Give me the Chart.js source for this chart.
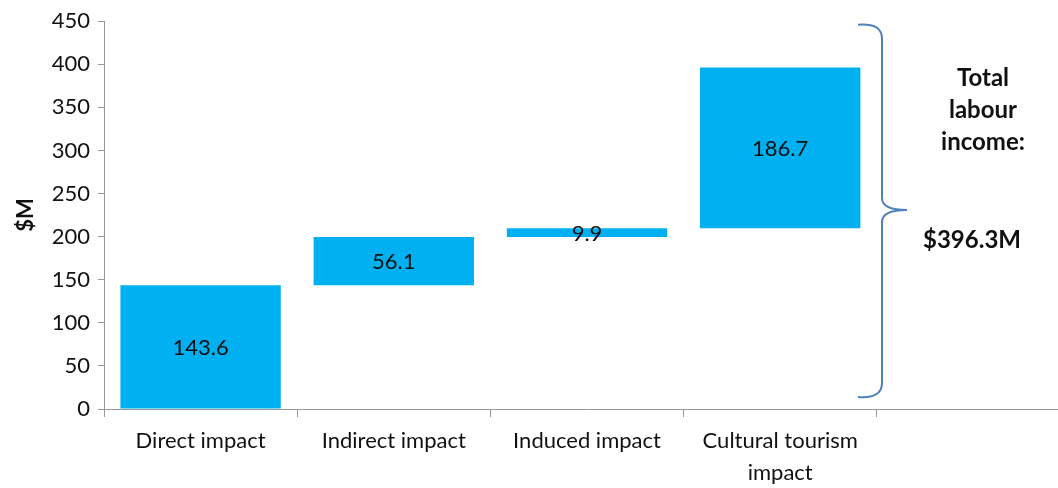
<!DOCTYPE html>
<html lang="en">
<head>
  <meta charset="UTF-8" />
  <title>Labour income impact</title>
  <script src="https://cdn.jsdelivr.net/npm/chart.js"></script>
  <style>
    html, body {
      margin: 0;
      padding: 0;
      background: #fff;
      overflow: hidden;
    }
    #wrap {
      position: relative;
      width: 1058px;
      height: 488px;
      overflow: hidden;
    }
    .note {
      position: absolute;
      font-family: Lato, "Open Sans", sans-serif;
      font-weight: bold;
      font-size: 24px;
      color: #111;
      text-align: center;
      line-height: 32px;
    }
  </style>
</head>
<body>
<div id="wrap">
  <canvas id="impactChart" width="1070" height="488"></canvas>
  <div class="note" style="left:913px; top:61px; width:140px;">Total<br>labour<br>income:</div>
  <div class="note" style="left:907px; top:223px; width:130px;">$396.3M</div>
</div>

<script>
  // each step of the waterfall starts where the previous one ends
  const categories = [["Direct impact"], ["Indirect impact"], ["Induced impact"], ["Cultural tourism", "impact"], [""]];
  const impacts = [143.6, 56.1, 9.9, 186.7];
  const yTicks = [0, 50, 100, 150, 200, 250, 300, 350, 400, 450];

  const ranges = [];
  let running = 0;
  impacts.forEach(v => {
    ranges.push([running, +(running + v).toFixed(1)]);
    running += v;
  });

  const FONT = "Lato, 'Open Sans', sans-serif";

  // value text in the middle of every floating bar
  const barLabels = {
    id: 'barLabels',
    afterDatasetsDraw(chart) {
      const ctx = chart.ctx;
      const meta = chart.getDatasetMeta(0);
      ctx.save();
      ctx.font = "22px " + FONT;
      ctx.fillStyle = "#111";
      ctx.textAlign = "center";
      ctx.textBaseline = "middle";
      meta.data.forEach((bar, i) => {
        const mid = (bar.y + bar.base) / 2;
        ctx.fillText(impacts[i].toFixed(1), bar.x, mid + 1);
      });
      ctx.restore();
    }
  };

  // curly brace grouping the whole stack on the right
  const brace = {
    id: 'brace',
    afterDraw(chart) {
      const y = chart.scales.y;
      const ctx = chart.ctx;
      const top = y.getPixelForValue(446);
      const bottom = y.getPixelForValue(14);
      const mid = y.getPixelForValue(231);
      const x0 = 858, x1 = 882, tip = 907;
      ctx.save();
      ctx.strokeStyle = "#4f81bd";
      ctx.lineWidth = 2;
      ctx.beginPath();
      ctx.moveTo(x0, top);
      ctx.quadraticCurveTo(x1, top - 2, x1, top + 14);
      ctx.lineTo(x1, mid - 12);
      ctx.quadraticCurveTo(x1, mid, tip, mid);
      ctx.moveTo(tip, mid);
      ctx.quadraticCurveTo(x1, mid, x1, mid + 12);
      ctx.lineTo(x1, bottom - 14);
      ctx.quadraticCurveTo(x1, bottom + 2, x0, bottom);
      ctx.stroke();
      ctx.restore();
    }
  };

  new Chart(document.getElementById("impactChart"), {
    type: 'bar',
    data: {
      labels: categories,
      datasets: [{
        data: ranges,
        backgroundColor: "#00b0f0",
        borderWidth: 0,
        barPercentage: 0.83,
        categoryPercentage: 1
      }]
    },
    options: {
      responsive: false,
      animation: false,
      layout: { padding: { top: 10, right: 0, left: 0, bottom: 0 } },
      plugins: {
        legend: { display: false },
        tooltip: { enabled: false }
      },
      scales: {
        x: {
          offset: true,
          grid: {
            offset: true,
            drawOnChartArea: false,
            drawTicks: true,
            tickLength: 8,
            color: "#999"
          },
          border: { color: "#999", width: 1 },
          ticks: {
            color: "#111",
            font: { family: FONT, size: 22, lineHeight: 1.45 },
            padding: 8,
            maxRotation: 0,
            autoSkip: false
          },
          afterFit(scale) { scale.height = 79; }
        },
        y: {
          min: 0,
          max: 450,
          afterBuildTicks(scale) { scale.ticks = yTicks.map(v => ({ value: v })); },
          grid: {
            drawOnChartArea: false,
            drawTicks: true,
            tickLength: 6,
            color: "#999"
          },
          border: { color: "#999", width: 1 },
          ticks: {
            color: "#111",
            font: { family: FONT, size: 22 },
            padding: 8
          },
          title: {
            display: true,
            text: "$M",
            color: "#111",
            font: { family: FONT, size: 22, weight: "bold" },
            padding: { top: 13, bottom: 0 }
          },
          afterFit(scale) { scale.width = 104; }
        }
      }
    },
    plugins: [barLabels, brace]
  });
</script>
</body>
</html>
